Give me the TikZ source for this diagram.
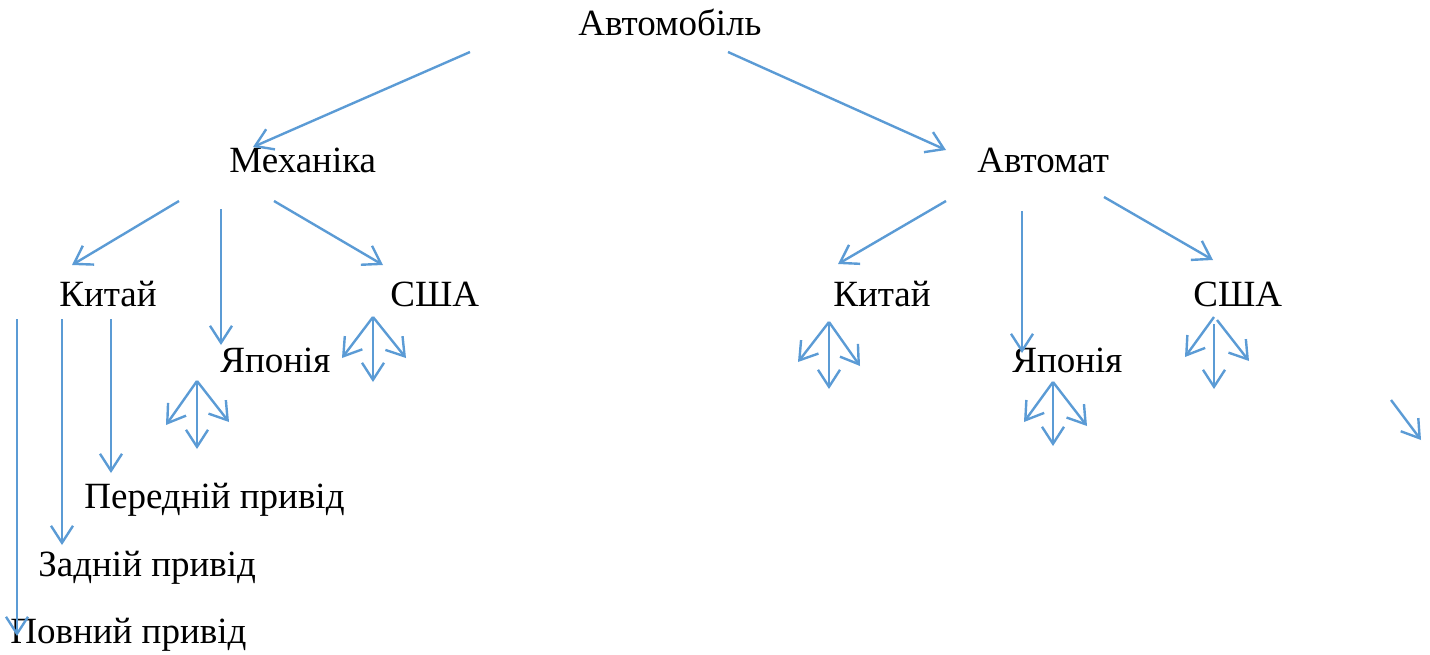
\documentclass[tikz,border=0pt]{standalone}
\usepackage{fontspec}
\setmainfont{Liberation Serif}
\usepackage{tikz}
\usetikzlibrary{arrows.meta}

\definecolor{linkblue}{HTML}{5B9BD5}

\begin{document}
\begin{tikzpicture}[
  x=0.5pt, y=-0.5pt,
  every node/.style={font=\fontsize{18.5}{22}\selectfont, inner sep=0pt, anchor=base west},
  arrow/.style={-{Straight Barb[length=8.5pt, width=11pt]}, line width=1.2pt, linkblue},
]
\useasboundingbox (0,0) rectangle (1430,654);

% Labels
\node (car)    at (578, 35)  {Автомобіль};
\node (mech)   at (229, 172) {Механіка};
\node (auto)   at (977, 172) {Автомат};
\node (chinaM) at (59, 306)  {Китай};
\node (usaM)   at (390, 306) {США};
\node (japanM) at (220, 372) {Японія};
\node (chinaA) at (833, 306) {Китай};
\node (japanA) at (1012, 372) {Японія};
\node (usaA)   at (1193, 306) {США};
\node (front)  at (84, 508)  {Передній привід};
\node (rear)   at (38, 576)  {Задній привід};
\node (full)   at (10, 643)  {Повний привід};

% Connector ends
\coordinate (car-l)   at (470, 52);
\coordinate (car-r)   at (728, 52);
\coordinate (mech-in) at (253, 147);
\coordinate (auto-in) at (946, 150);

\coordinate (mech-l) at (179, 201);
\coordinate (mech-c) at (221, 209);
\coordinate (mech-r) at (274, 201);
\coordinate (chinaM-in) at (72, 265);
\coordinate (japanM-in) at (221, 345);
\coordinate (usaM-in)   at (383, 265);

\coordinate (auto-l) at (946, 201);
\coordinate (auto-c) at (1022, 211);
\coordinate (auto-r) at (1104, 197);
\coordinate (chinaA-in) at (838, 264);
\coordinate (japanA-in) at (1022, 353);
\coordinate (usaA-in)   at (1213, 260);

\coordinate (drive-1) at (111, 319);
\coordinate (drive-2) at (62, 319);
\coordinate (drive-3) at (17, 319);
\coordinate (front-in) at (111, 473);
\coordinate (rear-in)  at (62, 545);
\coordinate (full-in)  at (17, 636);

% Top levels
\draw[arrow] (car-l) -- (mech-in);
\draw[arrow] (car-r) -- (auto-in);

\draw[arrow] (mech-l) -- (chinaM-in);
\draw[arrow] (mech-c) -- (japanM-in);
\draw[arrow] (mech-r) -- (usaM-in);

\draw[arrow] (auto-l) -- (chinaA-in);
\draw[arrow] (auto-c) -- (japanA-in);
\draw[arrow] (auto-r) -- (usaA-in);

% Drives
\draw[arrow] (drive-1) -- (front-in);
\draw[arrow] (drive-2) -- (rear-in);
\draw[arrow] (drive-3) -- (full-in);

% Small fans
\foreach \fan/\ox/\oy/\lx/\ly/\dy/\rx/\ry in {
    jm/197/381/166/425/449/229/422,
    um/373/317/342/358/382/406/358,
    ca/829/322/798/362/389/860/366,
    ja/1053/382/1024/422/446/1087/426} {
  \coordinate (\fan-o) at (\ox, \oy);
  \coordinate (\fan-l) at (\lx, \ly);
  \coordinate (\fan-d) at (\ox, \dy);
  \coordinate (\fan-r) at (\rx, \ry);
  \draw[arrow] (\fan-o) -- (\fan-l);
  \draw[arrow] (\fan-o) -- (\fan-d);
  \draw[arrow] (\fan-o) -- (\fan-r);
}

\coordinate (ua-o)  at (1214, 317);
\coordinate (ua-od) at (1214, 324);
\coordinate (ua-or) at (1217, 320);
\coordinate (ua-l)  at (1185, 357);
\coordinate (ua-d)  at (1214, 389);
\coordinate (ua-r)  at (1249, 361);
\draw[arrow] (ua-o) -- (ua-l);
\draw[arrow] (ua-od) -- (ua-d);
\draw[arrow] (ua-or) -- (ua-r);

\coordinate (lone-o) at (1391, 400);
\coordinate (lone-e) at (1421, 440);
\draw[arrow] (lone-o) -- (lone-e);

\end{tikzpicture}
\end{document}
